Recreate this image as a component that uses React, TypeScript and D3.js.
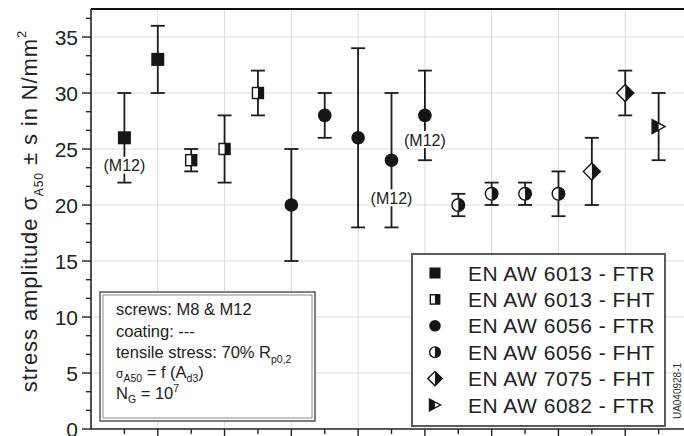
import React from "react";
import * as d3 from "d3";

const WIDTH = 684;
const HEIGHT = 436;
const M_LEFT = 91;
const M_TOP = 9;
const M_BOTTOM = 7;
const FONT = "'Liberation Sans', Arial, sans-serif";

// one entry per specimen group, x position = index + 1
const series = [
  "6013-FTR", "6013-FTR",
  "6013-FHT", "6013-FHT", "6013-FHT",
  "6056-FTR", "6056-FTR", "6056-FTR", "6056-FTR", "6056-FTR",
  "6056-FHT", "6056-FHT", "6056-FHT", "6056-FHT",
  "7075-FHT", "7075-FHT",
  "6082-FTR",
];
const means = [26, 33, 24, 25, 30, 20, 28, 26, 24, 28, 20, 21, 21, 21, 23, 30, 27];
const lows = [22, 30, 23, 22, 28, 15, 26, 18, 18, 24, 19, 20, 20, 19, 20, 28, 24];
const highs = [30, 36, 25, 28, 32, 25, 30, 34, 30, 32, 21, 22, 22, 23, 26, 32, 30];

// "(M12)" annotations: point index and y value of the label centre
const notePos = [1, 9, 10];
const noteY = [23.5, 20.6, 25.8];

const yTicks = [0, 5, 10, 15, 20, 25, 30, 35];
const xMajor = [2, 4, 6, 8, 10, 12, 14, 16];
const xMinor = [1, 3, 5, 7, 9, 11, 13, 15, 17];

const legendKeys = ["6013-FTR", "6013-FHT", "6056-FTR", "6056-FHT", "7075-FHT", "6082-FTR"];
const legendLabels = [
  "EN AW 6013 - FTR",
  "EN AW 6013 - FHT",
  "EN AW 6056 - FTR",
  "EN AW 6056 - FHT",
  "EN AW 7075 - FHT",
  "EN AW 6082 - FTR",
];

const INK = "#151515";

function Marker({ kind, cx, cy, s = 1 }: { kind: string; cx: number; cy: number; s?: number }) {
  if (kind === "6013-FTR") {
    const h = 6.5 * s;
    return <rect x={cx - h} y={cy - h} width={2 * h} height={2 * h} fill={INK} />;
  }
  if (kind === "6013-FHT") {
    const h = 5.5 * s;
    return (
      <g>
        <rect x={cx - h} y={cy - h} width={2 * h} height={2 * h} fill="#fff" stroke={INK} strokeWidth={1.4} />
        <rect x={cx} y={cy - h} width={h} height={2 * h} fill={INK} />
      </g>
    );
  }
  if (kind === "6056-FTR") {
    return <circle cx={cx} cy={cy} r={6.8 * s} fill={INK} />;
  }
  if (kind === "6056-FHT") {
    const r = 6.3 * s;
    return (
      <g>
        <circle cx={cx} cy={cy} r={r} fill="#fff" stroke={INK} strokeWidth={1.4} />
        <path d={`M${cx},${cy - r} A${r},${r} 0 0 1 ${cx},${cy + r} Z`} fill={INK} />
      </g>
    );
  }
  if (kind === "7075-FHT") {
    const r = 8.5 * s;
    return (
      <g>
        <path d={`M${cx},${cy - r} L${cx + r},${cy} L${cx},${cy + r} L${cx - r},${cy} Z`} fill="#fff" stroke={INK} strokeWidth={1.4} />
        <path d={`M${cx},${cy - r} L${cx + r},${cy} L${cx},${cy + r} Z`} fill={INK} />
      </g>
    );
  }
  // 6082-FTR: right-pointing triangle, left half filled
  const w = 13 * s;
  const h = 14 * s;
  const x0 = cx - w / 2;
  const xm = cx;
  return (
    <g>
      <path d={`M${x0},${cy - h / 2} L${x0 + w},${cy} L${x0},${cy + h / 2} Z`} fill="#fff" stroke={INK} strokeWidth={1.4} strokeLinejoin="miter" />
      <path d={`M${x0},${cy - h / 2} L${xm},${cy - h / 4} L${xm},${cy + h / 4} L${x0},${cy + h / 2} Z`} fill={INK} />
    </g>
  );
}

export default function App() {
  const x = d3.scaleLinear().domain([0, 17.76]).range([M_LEFT, WIDTH]);
  const y = d3.scaleLinear().domain([0, 37.5]).range([HEIGHT - M_BOTTOM, M_TOP]);
  const yMinor = d3.range(0, 37.5, 5 / 3).filter((v) => Math.abs(v / 5 - Math.round(v / 5)) > 0.01);
  const y0 = y(0);

  return (
    <svg
      width={WIDTH}
      height={HEIGHT}
      style={{ position: "absolute", left: 0, top: 0, background: "#fff" }}
      fontFamily={FONT}
    >
      <rect width={WIDTH} height={HEIGHT} fill="#fff" />

      {/* grid */}
      <g stroke="#dcdcdc" strokeWidth={1}>
        {yTicks.filter((t) => t > 0).map((t) => (
          <line key={"gy" + t} x1={M_LEFT} x2={WIDTH} y1={y(t)} y2={y(t)} />
        ))}
        {xMajor.map((t) => (
          <line key={"gx" + t} x1={x(t)} x2={x(t)} y1={M_TOP} y2={y0} />
        ))}
      </g>

      {/* axes frame */}
      <line x1={M_LEFT} x2={WIDTH} y1={M_TOP} y2={M_TOP} stroke="#111" strokeWidth={2} />
      <line x1={M_LEFT} x2={M_LEFT} y1={M_TOP} y2={y0} stroke="#222" strokeWidth={1.6} />
      <line x1={M_LEFT} x2={WIDTH} y1={y0} y2={y0} stroke="#222" strokeWidth={1.6} />

      {/* ticks */}
      <g stroke="#222" strokeWidth={1.4}>
        {yTicks.map((t) => (
          <line key={"ty" + t} x1={M_LEFT - 9} x2={M_LEFT} y1={y(t)} y2={y(t)} />
        ))}
        {yMinor.map((t) => (
          <line key={"tym" + t} x1={M_LEFT - 5} x2={M_LEFT} y1={y(t)} y2={y(t)} />
        ))}
        {xMajor.map((t) => (
          <line key={"tx" + t} x1={x(t)} x2={x(t)} y1={y0} y2={y0 + 8} />
        ))}
        {xMinor.map((t) => (
          <line key={"txm" + t} x1={x(t)} x2={x(t)} y1={y0} y2={y0 + 5} />
        ))}
      </g>
      <g fontSize={21} fill="#222" textAnchor="end">
        {yTicks.map((t) => (
          <text key={"ly" + t} x={78} y={y(t) + 7.5}>
            {t}
          </text>
        ))}
      </g>

      {/* y axis title */}
      <text
        transform={`translate(37,211) rotate(-90)`}
        textAnchor="middle"
        fontSize={22}
        letterSpacing={0.9}
        fill="#222"
      >
        stress amplitude σ
        <tspan fontSize={12} dy={6}>A50</tspan>
        <tspan dy={-6}>{"  ±  s in N/mm"}</tspan>
        <tspan fontSize={13} dy={-11}>2</tspan>
      </text>

      {/* error bars */}
      <g stroke="#1c1c1c" strokeWidth={1.8}>
        {means.map((_, i) => {
          const cx = x(i + 1);
          return (
            <g key={"eb" + i}>
              <line x1={cx} x2={cx} y1={y(lows[i])} y2={y(highs[i])} />
              <line x1={cx - 7} x2={cx + 7} y1={y(lows[i])} y2={y(lows[i])} />
              <line x1={cx - 7} x2={cx + 7} y1={y(highs[i])} y2={y(highs[i])} />
            </g>
          );
        })}
      </g>

      {/* annotations */}
      {notePos.map((p, k) => (
        <g key={"n" + k}>
          <rect x={x(p) - 22} y={y(noteY[k]) - 9} width={44} height={17} fill="#fff" />
          <text x={x(p)} y={y(noteY[k]) + 5.5} textAnchor="middle" fontSize={16} fill="#222">
            (M12)
          </text>
        </g>
      ))}

      {/* markers */}
      {means.map((m, i) => (
        <Marker key={"m" + i} kind={series[i]} cx={x(i + 1)} cy={y(m)} />
      ))}

      {/* conditions box */}
      <rect x={100} y={292} width={215} height={129} fill="#fff" stroke="#4a4a4a" strokeWidth={1.4} />
      <rect x={103} y={295} width={209} height={123} fill="none" stroke="#8a8a8a" strokeWidth={1} />
      <g fontSize={16.5} fill="#222">
        <text x={116} y={315}>screws: M8 &amp; M12</text>
        <text x={116} y={337}>coating: ---</text>
        <text x={116} y={358}>
          tensile stress: 70% R<tspan fontSize={10.5} dy={5}>p0,2</tspan>
        </text>
        <text x={116} y={378}>
          <tspan fontSize={12}>σ</tspan>
          <tspan fontSize={10.5} dy={4}>A50</tspan>
          <tspan dy={-4}>{" = f (A"}</tspan>
          <tspan fontSize={10.5} dy={4}>d3</tspan>
          <tspan dy={-4}>)</tspan>
        </text>
        <text x={116} y={399}>
          N<tspan fontSize={10.5} dy={4}>G</tspan>
          <tspan dy={-4}>{" = 10"}</tspan>
          <tspan fontSize={10.5} dy={-7}>7</tspan>
        </text>
      </g>

      {/* legend */}
      <rect x={412} y={254} width={253} height={172} fill="#fff" stroke="#5a5a5a" strokeWidth={2} />
      {legendKeys.map((k, i) => {
        const cy = 273 + i * 26.4;
        return (
          <g key={"lg" + k}>
            <Marker kind={k} cx={435} cy={cy} s={0.85} />
            <text x={468} y={cy + 7.5} fontSize={21} letterSpacing={0.5} fill="#222">
              {legendLabels[i]}
            </text>
          </g>
        );
      })}

      <text
        transform="translate(681,391) rotate(-90)"
        textAnchor="middle"
        fontSize={10}
        fill="#333"
      >
        UA040928-1
      </text>
    </svg>
  );
}
